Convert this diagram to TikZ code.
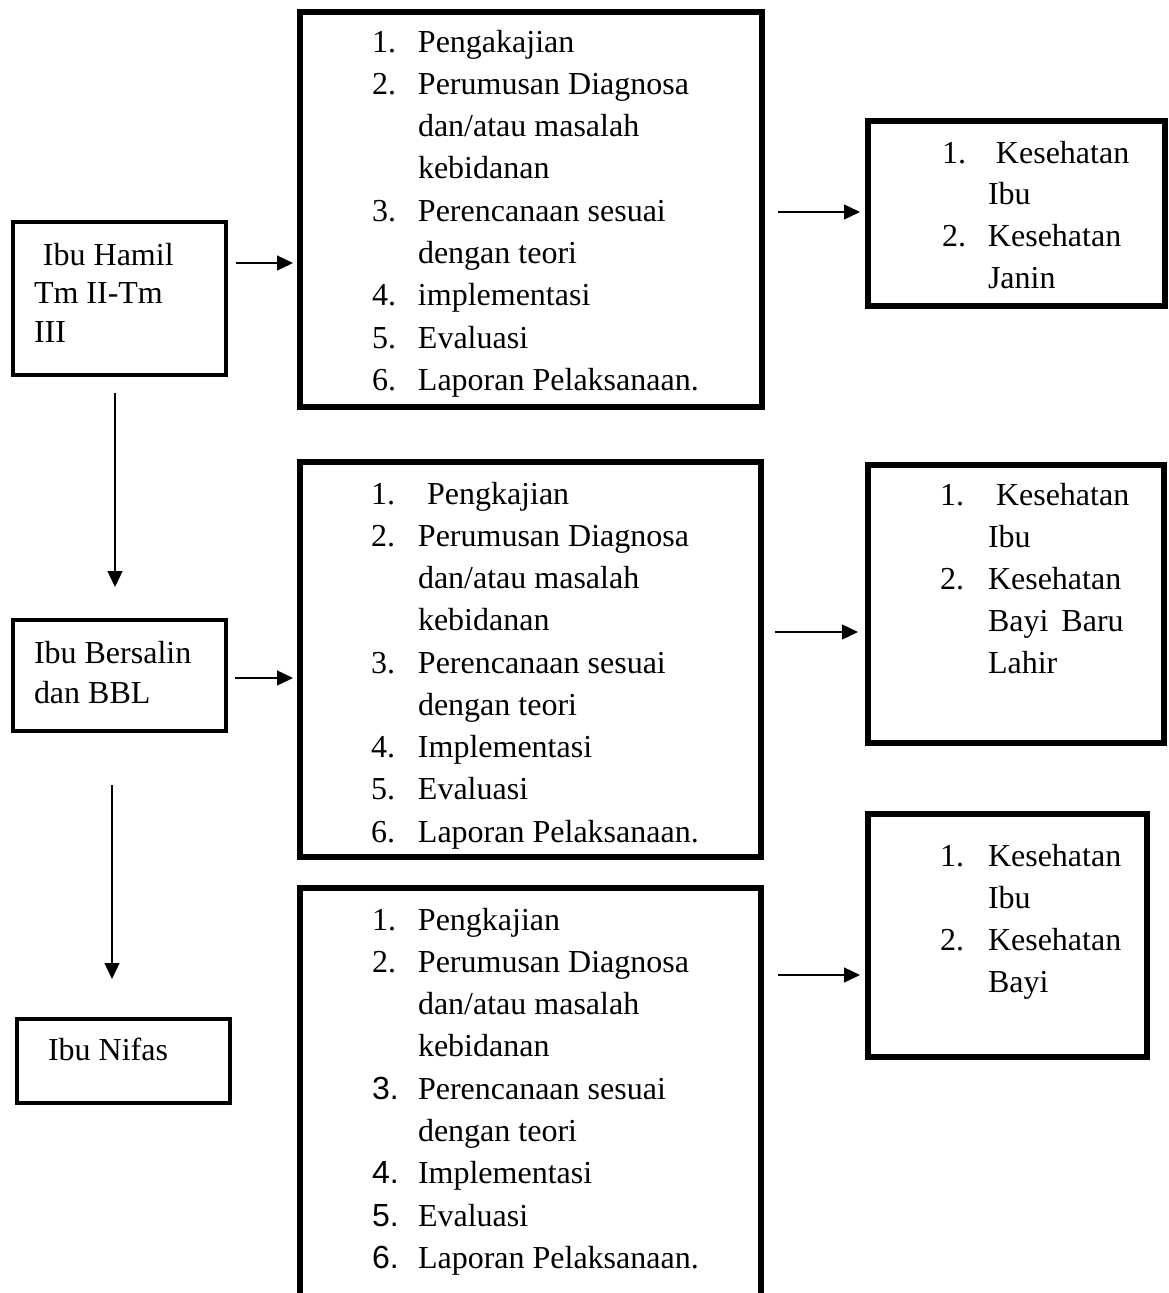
\documentclass[tikz,border=0pt]{standalone}
\usepackage{fontspec}
\setmainfont{Liberation Serif}
\newfontfamily\arialf{Liberation Sans}
\usetikzlibrary{arrows.meta}
\newcommand{\sn}[1]{{\arialf #1}}
\begin{document}
\begin{tikzpicture}[x=1pt,y=-1pt,
  lbox/.style={draw=black, line width=4.5pt, outer sep=0pt, inner sep=0pt, rectangle},
  bbox/.style={draw=black, line width=5.5pt, outer sep=0pt, inner sep=0pt, rectangle},
  lst/.style={inner sep=0pt, outer sep=0pt, anchor=base west, font=\fontsize{32}{#1}\selectfont},
  arr/.style={line width=1.3pt, -{Triangle[length=16pt,width=15pt]}}]
\useasboundingbox (0,0) rectangle (1168,1293);
\clip (0,0) rectangle (1168,1293);
\fill[white] (0,0) rectangle (1168,1293);

% left boxes
\node[lbox, minimum width=213pt, minimum height=153pt] (l1) at (119.5,298.5) {};
\node[lbox, minimum width=213pt, minimum height=111pt] (l2) at (119.5,675.5) {};
\node[lbox, minimum width=213pt, minimum height=84pt] (l3) at (123.5,1061) {};

% middle boxes
\node[bbox, minimum width=462pt, minimum height=395pt] (m1) at (531,209.5) {};
\node[bbox, minimum width=461pt, minimum height=395pt] (m2) at (530.5,659.5) {};
\node[bbox, minimum width=461pt, minimum height=432pt] (m3) at (530.5,1104) {};

% right boxes
\node[bbox, minimum width=297pt, minimum height=185pt] (r1) at (1016.5,213.5) {};
\node[bbox, minimum width=296pt, minimum height=278pt] (r2) at (1016,604) {};
\node[bbox, minimum width=279pt, minimum height=243pt] (r3) at (1007.5,935.5) {};

% left texts
\node[lst=38.5] (l1t) at (34,265) {\begin{tabular}[t]{@{}l@{}}\hspace{9pt}Ibu Hamil\\ Tm II-Tm\\ III\end{tabular}};
\node[lst=40] (l2t) at (34,663) {\begin{tabular}[t]{@{}l@{}}Ibu Bersalin\\ dan BBL\end{tabular}};
\node[lst=40] (l3t) at (48,1060) {Ibu Nifas};

% middle texts
\node[lst=42.3] (m1t) at (372,52) {\begin{tabular}[t]{@{}p{46pt}@{}l@{}}
1. & Pengakajian\\
2. & Perumusan Diagnosa\\
   & dan/atau masalah\\
   & kebidanan\\
3. & Perencanaan sesuai\\
   & dengan teori\\
4. & implementasi\\
5. & Evaluasi\\
6. & Laporan Pelaksanaan.
\end{tabular}};

\node[lst=42.25] (m2t) at (371,504) {\begin{tabular}[t]{@{}p{47pt}@{}l@{}}
1. & \hspace{9pt}Pengkajian\\
2. & Perumusan Diagnosa\\
   & dan/atau masalah\\
   & kebidanan\\
3. & Perencanaan sesuai\\
   & dengan teori\\
4. & Implementasi\\
5. & Evaluasi\\
6. & Laporan Pelaksanaan.
\end{tabular}};

\node[lst=42.3] (m3t) at (372,930) {\begin{tabular}[t]{@{}p{46pt}@{}l@{}}
1. & Pengkajian\\
2. & Perumusan Diagnosa\\
   & dan/atau masalah\\
   & kebidanan\\
\sn{3.} & Perencanaan sesuai\\
   & dengan teori\\
\sn{4.} & Implementasi\\
\sn{5.} & Evaluasi\\
\sn{6.} & Laporan Pelaksanaan.
\end{tabular}};

% right texts
\node[lst=41.7] (r1t) at (942,163) {\begin{tabular}[t]{@{}p{46pt}@{}l@{}}
1. & \hspace{8pt}Kesehatan\\
   & Ibu\\
2. & Kesehatan\\
   & Janin
\end{tabular}};

\node[lst=42] (r2t) at (940,505) {\begin{tabular}[t]{@{}p{48pt}@{}l@{}}
1. & \hspace{8pt}Kesehatan\\
   & Ibu\\
2. & Kesehatan\\
   & Bayi\hspace{13pt}Baru\\
   & Lahir
\end{tabular}};

\node[lst=42] (r3t) at (940,866) {\begin{tabular}[t]{@{}p{48pt}@{}l@{}}
1. & Kesehatan\\
   & Ibu\\
2. & Kesehatan\\
   & Bayi
\end{tabular}};

% horizontal arrows
\draw[arr, shorten <=10pt, shorten >=7pt] ([yshift=35.5pt]l1.east) -- ([yshift=35.5pt]l1.east -| m1.west);
\draw[arr, shorten <=9pt, shorten >=7pt] ([yshift=-2.5pt]l2.east) -- ([yshift=-2.5pt]l2.east -| m2.west);
\draw[arr, shorten <=16pt, shorten >=8pt] ([yshift=-2.5pt]m1.east) -- ([yshift=-2.5pt]m1.east -| r1.west);
\draw[arr, shorten <=14pt, shorten >=10pt] ([yshift=27.5pt]m2.east) -- ([yshift=27.5pt]m2.east -| r2.west);
\draw[arr, shorten <=17pt, shorten >=8pt] ([yshift=-39.5pt]r3.west -| m3.east) -- ([yshift=-39.5pt]r3.west);

% vertical arrows
\draw[arr, shorten <=18pt, shorten >=33pt] ([xshift=-4.5pt]l1.south) -- ([xshift=-4.5pt]l1.south |- l2.north);
\draw[arr, shorten <=54pt, shorten >=40pt] ([xshift=-7.5pt]l2.south) -- ([xshift=-7.5pt]l2.south |- l3.north);
\end{tikzpicture}
\end{document}
